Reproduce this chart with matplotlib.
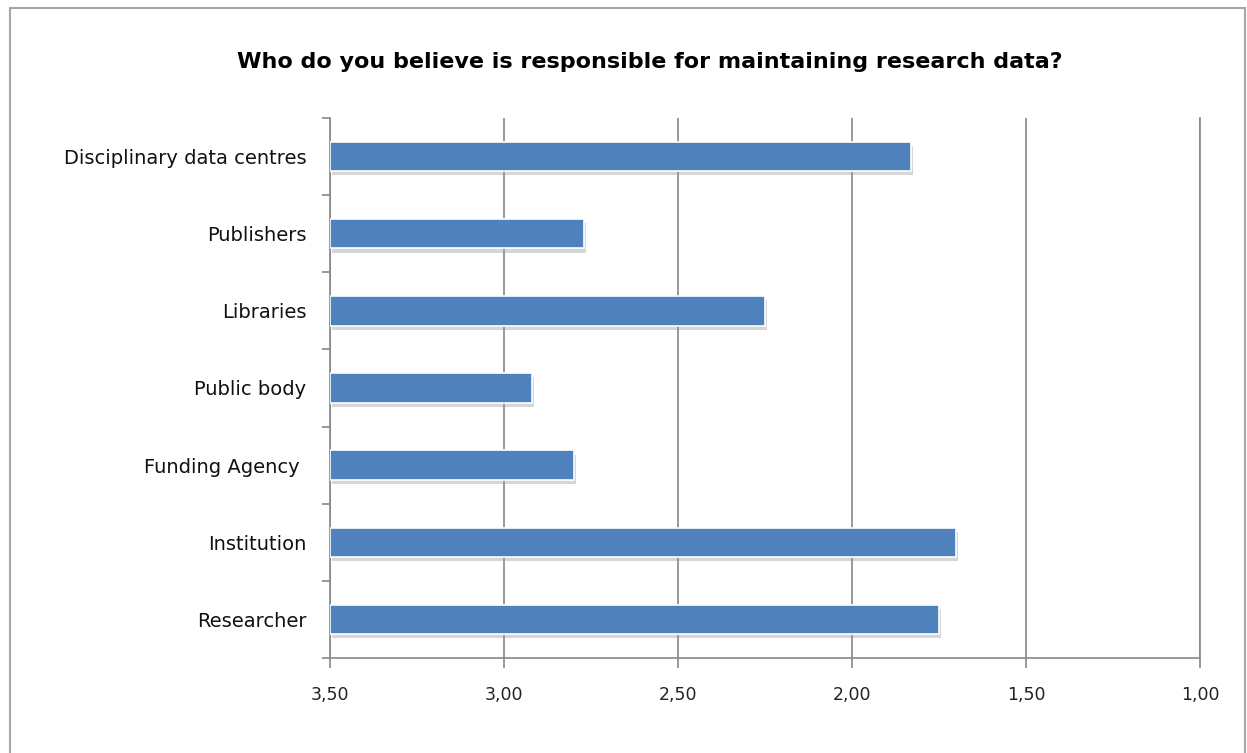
import numpy as np
import matplotlib.pyplot as plt
import matplotlib.patheffects as pe
from matplotlib.patches import Rectangle

# data (top to bottom as in the chart)
categories = ['Disciplinary data centres', 'Publishers', 'Libraries', 'Public body',
              'Funding Agency ', 'Institution', 'Researcher']
values = [1.83, 2.77, 2.25, 2.92, 2.80, 1.70, 1.75]
xticks = [3.50, 3.00, 2.50, 2.00, 1.50, 1.00]

base = 3.50
bar_color = '#4F81BD'

fig = plt.figure(figsize=(12.47, 7.53), dpi=100)
ax = fig.add_axes([0.2646, 0.1262, 0.6977, 0.7171])

# outer chart border
fig.patches.append(Rectangle((0.008, -0.01), 0.99, 1.0, transform=fig.transFigure,
                             fill=False, edgecolor='#a6a6a6', linewidth=1.5))

y = np.arange(len(categories))
bars = ax.barh(y, [v - base for v in values], left=base, height=0.38,
               color=bar_color, edgecolor='white', linewidth=1.2, zorder=3)
for b in bars:
    b.set_path_effects([pe.SimplePatchShadow(offset=(1.5, -3), shadow_rgbFace='#999999', alpha=0.4),
                        pe.Normal()])

ax.set_xlim(3.50, 1.00)
ax.set_ylim(len(categories) - 0.5, -0.5)
ax.set_xticks(xticks)
ax.set_xticklabels([f'{t:.2f}'.replace('.', ',') for t in xticks], fontsize=12.5, color='#222222')
ax.set_yticks(y)
ax.set_yticklabels(categories, fontsize=14, color='#111111')
ax.set_yticks(np.arange(-0.5, len(categories), 1), minor=True)

ax.tick_params(axis='y', which='major', length=0, pad=17)
ax.tick_params(axis='y', which='minor', length=6, color='#888888', width=1.2)
ax.tick_params(axis='x', length=7, color='#888888', width=1.2, pad=13)

ax.grid(axis='x', color='#888888', linewidth=1.2, zorder=0)
ax.set_axisbelow(True)
ax.spines['top'].set_visible(False)
for s in ['left', 'bottom', 'right']:
    ax.spines[s].set_color('#888888')
    ax.spines[s].set_linewidth(1.2)

fig.text(0.521, 0.918, 'Who do you believe is responsible for maintaining research data?',
         ha='center', va='center', fontsize=16, fontweight='bold')

fig.savefig('out.png', dpi=100)
